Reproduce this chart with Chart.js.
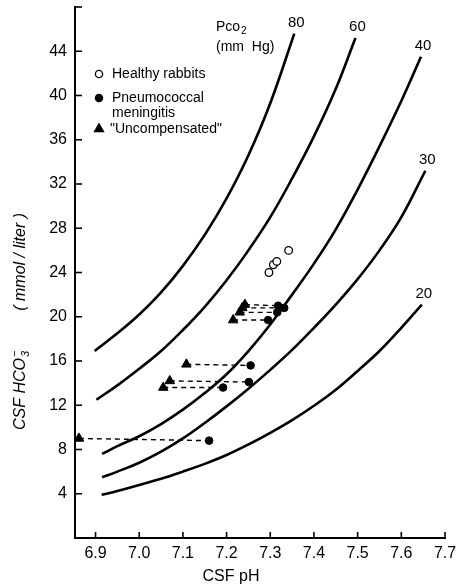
<!DOCTYPE html>
<html>
<head>
<meta charset="utf-8">
<script src="https://cdn.jsdelivr.net/npm/chart.js@4.4.1/dist/chart.umd.min.js"></script>
<style>
  html, body { margin: 0; padding: 0; background: #fff; }
  #wrap { width: 456px; height: 588px; }
</style>
</head>
<body>
<div id="wrap"><canvas id="c" width="456" height="588"></canvas></div>
<script>
// ---- axis ticks ----
const phTicks = [6.9, 7.0, 7.1, 7.2, 7.3, 7.4, 7.5, 7.6, 7.7];
const hco3Ticks = [4, 8, 12, 16, 20, 24, 28, 32, 36, 40, 44];

// ---- PCO2 isopleths ----
const pcoLabels = ['80', '60', '40', '30', '20'];
const curve80pH   = [6.898, 6.95, 7.00, 7.05, 7.10, 7.15, 7.20, 7.25, 7.30, 7.355];
const curve80HCO3 = [16.9, 18.5, 20.2, 22.2, 24.6, 27.4, 30.7, 34.6, 39.3, 45.6];
const curve60pH   = [6.902, 6.95, 7.00, 7.05, 7.10, 7.15, 7.20, 7.25, 7.30, 7.35, 7.40, 7.45, 7.495];
const curve60HCO3 = [12.5, 13.8, 15.3, 16.9, 18.8, 20.9, 23.3, 26.0, 29.0, 32.5, 36.3, 40.6, 45.2];
const curve40pH   = [6.915, 6.95, 7.00, 7.05, 7.10, 7.15, 7.20, 7.25, 7.30, 7.35, 7.40, 7.45, 7.50, 7.55, 7.60, 7.645];
const curve40HCO3 = [7.6, 8.3, 9.2, 10.3, 11.6, 13.1, 14.8, 16.9, 19.3, 22.0, 24.8, 27.9, 31.5, 35.4, 39.5, 43.5];
const curve30pH   = [6.915, 6.95, 7.00, 7.05, 7.10, 7.15, 7.20, 7.25, 7.30, 7.35, 7.40, 7.45, 7.50, 7.55, 7.60, 7.655];
const curve30HCO3 = [5.5, 6.0, 6.8, 7.8, 9.0, 10.4, 11.9, 13.5, 15.2, 17.0, 19.0, 21.1, 23.4, 26.0, 29.0, 33.2];
const curve20pH   = [6.914, 6.95, 7.00, 7.05, 7.10, 7.15, 7.20, 7.25, 7.30, 7.35, 7.40, 7.45, 7.50, 7.55, 7.60, 7.647];
const curve20HCO3 = [3.9, 4.25, 4.8, 5.35, 6.0, 6.7, 7.5, 8.45, 9.5, 10.65, 11.95, 13.4, 15.1, 16.9, 19.0, 21.1];

// ---- observations ----
const healthyPH   = [7.297, 7.307, 7.315, 7.342];
const healthyHCO3 = [24.0, 24.7, 25.0, 26.0];
const meningitisPH   = [7.160, 7.255, 7.251, 7.192, 7.318, 7.332, 7.316, 7.295];
const meningitisHCO3 = [8.8, 15.6, 14.1, 13.6, 21.0, 20.8, 20.4, 19.7];
const uncompPH   = [6.862, 7.108, 7.070, 7.055, 7.242, 7.236, 7.230, 7.215];
const uncompHCO3 = [9.0, 15.7, 14.2, 13.6, 21.1, 20.8, 20.4, 19.7];

const legendLabels = ['Healthy rabbits', 'Pneumococcal', 'meningitis', '"Uncompensated"'];

const FONT = '"Liberation Sans", Arial, sans-serif';
const zip = (xs, ys) => xs.map((v, i) => ({x: v, y: ys[i]}));

const curves = [
  [curve80pH, curve80HCO3], [curve60pH, curve60HCO3], [curve40pH, curve40HCO3],
  [curve30pH, curve30HCO3], [curve20pH, curve20HCO3]
];

const datasets = [];
curves.forEach((c, i) => datasets.push({
  type: 'line', label: 'P' + pcoLabels[i], data: zip(c[0], c[1]),
  borderColor: '#000', borderWidth: 2.6, pointRadius: 0,
  tension: 0.4, fill: false, clip: false
}));
uncompPH.forEach((v, i) => datasets.push({
  type: 'line', label: 'pair' + i,
  data: [{x: uncompPH[i], y: uncompHCO3[i]}, {x: meningitisPH[i], y: meningitisHCO3[i]}],
  borderColor: '#000', borderWidth: 1.4, borderDash: [5, 4], pointRadius: 0, fill: false, clip: false
}));
datasets.push({
  type: 'scatter', label: 'Uncompensated', data: zip(uncompPH, uncompHCO3),
  pointStyle: 'triangle', pointRadius: 5.5, backgroundColor: '#000', borderColor: '#000', borderWidth: 1, clip: false
});
datasets.push({
  type: 'scatter', label: 'Pneumococcal meningitis', data: zip(meningitisPH, meningitisHCO3),
  pointStyle: 'circle', pointRadius: 3.8, backgroundColor: '#000', borderColor: '#000', borderWidth: 1, clip: false
});
datasets.push({
  type: 'scatter', label: 'Healthy rabbits', data: zip(healthyPH, healthyHCO3),
  pointStyle: 'circle', pointRadius: 3.8, backgroundColor: '#fff', borderColor: '#000', borderWidth: 1.3, clip: false
});

const annot = {
  id: 'annot',
  afterDraw(chart) {
    const ctx = chart.ctx;
    const xs = chart.scales.x, ys = chart.scales.y;
    ctx.save();
    ctx.strokeStyle = '#000';
    ctx.fillStyle = '#000';
    ctx.lineWidth = 1.6;
    // inward tick marks
    phTicks.forEach(v => {
      const px = xs.getPixelForValue(v);
      ctx.beginPath(); ctx.moveTo(px, ys.bottom); ctx.lineTo(px, ys.bottom - 6); ctx.stroke();
    });
    hco3Ticks.concat([ys.max]).forEach(v => {
      const py = ys.getPixelForValue(v);
      ctx.beginPath(); ctx.moveTo(xs.left, py); ctx.lineTo(xs.left + 7, py); ctx.stroke();
    });
    // curve labels at the upper end of each isopleth
    ctx.font = '15px ' + FONT;
    ctx.textAlign = 'center';
    ctx.textBaseline = 'middle';
    curves.forEach((c, i) => {
      const n = c[0].length - 1;
      const px = xs.getPixelForValue(c[0][n]);
      const py = ys.getPixelForValue(c[1][n]);
      ctx.fillText(pcoLabels[i], px + 2, py - 11);
    });
    // PCO2 header
    ctx.textAlign = 'left';
    ctx.font = '14px ' + FONT;
    ctx.fillText('Pco', 216, 27);
    const wP = ctx.measureText('Pco').width;
    ctx.font = '10px ' + FONT;
    ctx.fillText('2', 216 + wP + 1, 31);
    ctx.font = '14px ' + FONT;
    ctx.fillText('(mm  Hg)', 216, 47);
    // legend
    const H = Chart.helpers;
    const lx = 99;
    const mk = (style, fill, r, y) => {
      ctx.fillStyle = fill; ctx.strokeStyle = '#000'; ctx.lineWidth = 1.3;
      H.drawPoint(ctx, {pointStyle: style, radius: r, rotation: 0, borderWidth: 1.3}, lx, y);
    };
    mk('circle', '#fff', 3.6, 74);
    mk('circle', '#000', 3.6, 98);
    mk('triangle', '#000', 5.2, 129);
    ctx.fillStyle = '#000';
    ctx.font = '14px ' + FONT;
    ctx.fillText(legendLabels[0], 112, 74);
    ctx.fillText(legendLabels[1], 112, 98);
    ctx.fillText(legendLabels[2], 112, 113);
    ctx.fillText(legendLabels[3], 110, 129);
    // x title
    ctx.textAlign = 'center';
    ctx.font = '16px ' + FONT;
    ctx.fillText('CSF pH', 231, 577);
    // y title (rotated, italic)
    ctx.save();
    ctx.translate(21, 430);
    ctx.rotate(-Math.PI / 2);
    ctx.textAlign = 'left';
    ctx.textBaseline = 'middle';
    ctx.font = 'italic 16px ' + FONT;
    ctx.fillText('CSF HCO', 0, 0);
    const w1 = ctx.measureText('CSF HCO').width;
    ctx.font = 'italic 11px ' + FONT;
    ctx.fillText('3', w1 + 1, 5);
    ctx.fillText('\u2212', w1 + 1, -6);
    ctx.font = 'italic 16px ' + FONT;
    ctx.textAlign = 'right';
    ctx.fillText('( mmol / liter )', 217, 0);
    ctx.restore();
    ctx.restore();
  }
};

Chart.defaults.font.family = FONT;
Chart.defaults.color = '#000';

new Chart(document.getElementById('c'), {
  type: 'scatter',
  data: { datasets },
  options: {
    responsive: false,
    animation: false,
    devicePixelRatio: 1,
    layout: { padding: { top: 7, right: 11, left: 0, bottom: 0 } },
    plugins: { legend: { display: false }, tooltip: { enabled: false } },
    scales: {
      x: {
        type: 'linear', min: 6.853, max: 7.7,
        afterBuildTicks: s => { s.ticks = phTicks.map(v => ({value: v})); },
        afterFit: s => { s.height = 50; s.paddingLeft = 0; s.paddingRight = 0; },
        ticks: { callback: v => Number(v).toFixed(1), font: { size: 16 }, color: '#000', padding: 6, maxRotation: 0, autoSkip: false },
        grid: { display: true, drawOnChartArea: false, drawTicks: false },
        border: { display: true, color: '#000', width: 2 }
      },
      y: {
        type: 'linear', min: 0, max: 48,
        afterBuildTicks: s => { s.ticks = hco3Ticks.map(v => ({value: v})); },
        afterFit: s => { s.width = 75; s.paddingTop = 0; s.paddingBottom = 0; },
        ticks: { font: { size: 16 }, color: '#000', padding: 8, autoSkip: false },
        grid: { display: true, drawOnChartArea: false, drawTicks: false },
        border: { display: true, color: '#000', width: 2 }
      }
    }
  },
  plugins: [annot]
});
</script>
</body>
</html>
